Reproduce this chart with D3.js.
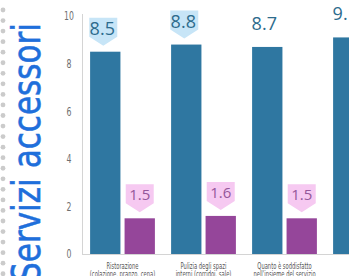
<!DOCTYPE html>
<html>
<head>
<meta charset="utf-8">
<script src="https://cdn.jsdelivr.net/npm/d3@7"></script>
<style>
  html, body { margin: 0; padding: 0; background: #fff; overflow: hidden; }
</style>
</head>
<body>
<svg id="svg-container" width="349" height="276"></svg>
<script>
// chart values
var categories = ["Ristorazione", "Pulizia degli spazi", "Quanto è soddisfatto", "Quanto è"];
var categoryLines2 = ["(colazione, pranzo, cena)", "interni (corridoi, sale)", "nell'insieme del servizio", "il servizio"];
var seriesNames = ["media", "dev"];
var valuesMain = [8.5, 8.8, 8.7, 9.1];
var valuesDev = [1.5, 1.6, 1.5, 1.4];
var yTicks = [0, 2, 4, 6, 8, 10];
var title = "Servizi accessori";

var COLORS = {
    blue: "#2f77a1",
    purple: "#95469a",
    blueCallout: "#c7e5f7",
    pinkCallout: "#f6c9f1",
    blueText: "#2d6c8d",
    purpleText: "#94579a",
    title: "#1f6fdb",
    axis: "#d4d4d4",
    tick: "#6f6f6f",
    label: "#555555",
    dot: "#cbcbcb"
};

var NARROW = "'DejaVu Sans Condensed', 'Liberation Sans', sans-serif";

var svg = d3.select("#svg-container");

// squeeze a text horizontally so it looks like a narrow font
function squeeze(sel, factor) {
    sel.each(function () {
        var len = this.getComputedTextLength();
        d3.select(this)
            .attr("textLength", len * factor)
            .attr("lengthAdjust", "spacingAndGlyphs");
    });
}

// dotted margin on the left
var dotY = d3.range(10, 280, 10.55);
svg.append("g").selectAll("circle")
    .data(dotY)
    .enter().append("circle")
    .attr("cx", 3)
    .attr("cy", function (d) { return d; })
    .attr("r", 2.4)
    .attr("fill", COLORS.dot);

// big vertical title
svg.append("text")
    .attr("transform", "translate(40,282) rotate(-90)")
    .attr("x", 0)
    .attr("y", 0)
    .attr("fill", COLORS.title)
    .attr("stroke", COLORS.title)
    .attr("stroke-width", "0.5")
    .attr("font-family", NARROW)
    .attr("font-size", "39")
    .attr("textLength", "259")
    .attr("lengthAdjust", "spacingAndGlyphs")
    .text(title);

var y = d3.scaleLinear().domain([0, 10]).range([254, 16]);

var x0 = d3.scaleBand()
    .domain(categories)
    .range([82, 82 + 81 * categories.length])
    .paddingInner(0.2)
    .paddingOuter(0.1);

var x1 = d3.scaleBand()
    .domain(seriesNames)
    .range([0, x0.bandwidth()])
    .paddingInner(0.12);

// y axis labels (no ticks)
var yAxis = d3.axisLeft(y).tickValues(yTicks).tickSize(0).tickPadding(0);
var gY = svg.append("g")
    .attr("transform", "translate(73,0)")
    .call(yAxis);
gY.select(".domain").remove();
gY.selectAll("text")
    .attr("fill", COLORS.tick)
    .attr("text-anchor", "middle")
    .attr("dx", "-4")
    .attr("font-family", NARROW)
    .attr("font-size", "12")
    .call(squeeze, 0.72);

// axis lines
svg.append("line")
    .attr("x1", 82.5).attr("y1", 14)
    .attr("x2", 82.5).attr("y2", y(0) + 0.5)
    .attr("stroke", COLORS.axis)
    .attr("stroke-width", 1);
svg.append("line")
    .attr("x1", 82).attr("y1", y(0) + 0.5)
    .attr("x2", 349).attr("y2", y(0) + 0.5)
    .attr("stroke", COLORS.axis)
    .attr("stroke-width", 1);

var rows = categories.map(function (c, i) {
    return { cat: c, line2: categoryLines2[i], main: valuesMain[i], dev: valuesDev[i], idx: i };
});

var groups = svg.append("g").selectAll("g")
    .data(rows)
    .enter().append("g")
    .attr("transform", function (d) { return "translate(" + x0(d.cat) + ",0)"; });

groups.append("rect")
    .attr("x", x1("media"))
    .attr("y", function (d) { return y(d.main); })
    .attr("width", x1.bandwidth())
    .attr("height", function (d) { return y(0) - y(d.main); })
    .attr("fill", COLORS.blue);

groups.append("rect")
    .attr("x", x1("dev"))
    .attr("y", function (d) { return y(d.dev); })
    .attr("width", x1.bandwidth())
    .attr("height", function (d) { return y(0) - y(d.dev); })
    .attr("fill", COLORS.purple);

// callout shape, tip pointing down to the bar
function calloutPath(cx, top) {
    var w = 14, tip = top - 6, shoulder = top - 15, head = top - 34;
    return "M" + (cx - w) + "," + head +
        "L" + (cx + w) + "," + head +
        "L" + (cx + w) + "," + shoulder +
        "L" + cx + "," + tip +
        "L" + (cx - w) + "," + shoulder + "Z";
}

var mainCx = x1("media") + x1.bandwidth() / 2;
var devCx = x1("dev") + x1.bandwidth() / 2;

groups.filter(function (d) { return d.idx < 2; })
    .append("path")
    .attr("d", function (d) { return calloutPath(mainCx - 2, y(d.main)); })
    .attr("fill", COLORS.blueCallout);

groups.append("path")
    .attr("d", function (d) { return calloutPath(devCx, y(d.dev)); })
    .attr("fill", COLORS.pinkCallout);

groups.append("text")
    .attr("x", mainCx - 3)
    .attr("y", function (d) { return y(d.main) - 17; })
    .attr("fill", COLORS.blueText)
    .attr("text-anchor", "middle")
    .attr("font-family", "'Open Sans', sans-serif")
    .attr("font-size", "18")
    .text(function (d) { return d.main.toFixed(1); });

groups.append("text")
    .attr("x", devCx)
    .attr("y", function (d) { return y(d.dev) - 18; })
    .attr("fill", COLORS.purpleText)
    .attr("text-anchor", "middle")
    .attr("font-family", "'Open Sans', sans-serif")
    .attr("font-size", "15")
    .text(function (d) { return d.dev.toFixed(1); });

// category labels
groups.append("text")
    .attr("x", x0.bandwidth() / 2)
    .attr("y", 269)
    .attr("fill", COLORS.label)
    .attr("text-anchor", "middle")
    .attr("font-family", NARROW)
    .attr("font-size", "8")
    .text(function (d) { return d.cat; })
    .call(squeeze, 0.72);

groups.append("text")
    .attr("x", x0.bandwidth() / 2)
    .attr("y", 277)
    .attr("fill", COLORS.label)
    .attr("text-anchor", "middle")
    .attr("font-family", NARROW)
    .attr("font-size", "8")
    .text(function (d) { return d.line2; })
    .call(squeeze, 0.72);
</script>
</body>
</html>
